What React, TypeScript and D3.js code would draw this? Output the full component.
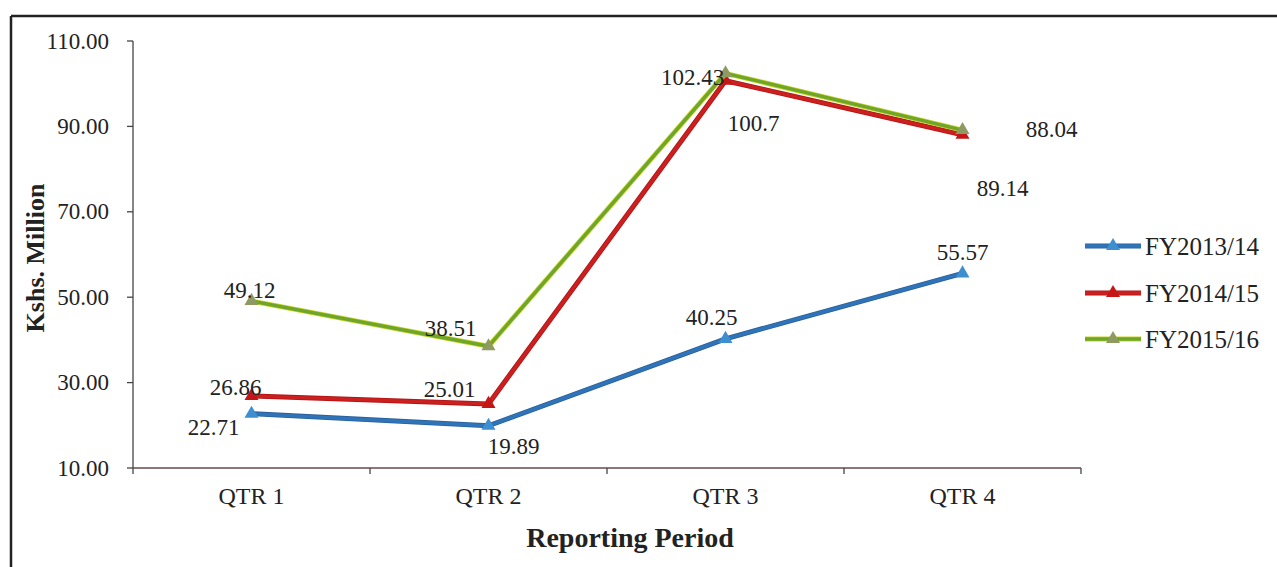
import React from "react";
import * as d3 from "d3";

const categories = ["QTR 1", "QTR 2", "QTR 3", "QTR 4"];
const seriesNames = ["FY2013/14", "FY2014/15", "FY2015/16"];
const fy1314 = [22.71, 19.89, 40.25, 55.57];
const fy1415 = [26.86, 25.01, 100.7, 88.04];
const fy1516 = [49.12, 38.51, 102.43, 89.14];
const labels1314 = ["22.71", "19.89", "40.25", "55.57"];
const labels1415 = ["26.86", "25.01", "100.7", "88.04"];
const labels1516 = ["49.12", "38.51", "102.43", "89.14"];
const yTicks = [10, 30, 50, 70, 90, 110];

const W = 1277;
const H = 567;
const FONT = "'Liberation Serif', 'Times New Roman', serif";

const styles = [
  { color: "#2f74b8", edge: "#2a5f9a", marker: "#3d8fd0" },
  { color: "#cc1f1f", edge: "#b01515", marker: "#c41616" },
  { color: "#6fa62a", edge: "#c9d62a", marker: "#8e9a62" },
];

// label offsets relative to the data point (layout only)
const labelOffsets = [
  [[-38, 14], [25, 21], [-14, -21], [0, -21]],
  [[-16, -9], [-39, -14], [28, 43], [89, -5]],
  [[-2, -10], [-38, -18], [-33, 4], [40, 58]],
];

export default function App() {
  const left = 133, right = 1081, top = 41, bottom = 468;
  const x = d3.scaleBand().domain(categories).range([left, right]).padding(0);
  const y = d3.scaleLinear().domain([10, 110]).range([bottom, top]);
  const cx = (c: string) => (x(c) as number) + x.bandwidth() / 2;

  const data = [fy1314, fy1415, fy1516];
  const labs = [labels1314, labels1415, labels1516];

  const line = d3
    .line<number>()
    .x((_, i) => cx(categories[i]))
    .y((d) => y(d));

  const tri = d3.symbol().type(d3.symbolTriangle).size(85);

  const boundaries = [left, ...categories.map((c) => (x(c) as number) + x.bandwidth())];

  const legendY = [246, 293, 339];

  return (
    <svg
      width={W}
      height={H}
      style={{ position: "absolute", left: 0, top: 0, background: "#fff" }}
      fontFamily={FONT}
    >
      <rect x={0} y={0} width={W} height={H} fill="#fff" />
      {/* frame */}
      <line x1={11} y1={16} x2={W} y2={16} stroke="#222" strokeWidth={2.5} />
      <line x1={11} y1={16} x2={11} y2={H} stroke="#222" strokeWidth={2.5} />

      {/* y axis */}
      <line x1={left} y1={top} x2={left} y2={bottom} stroke="#444" strokeWidth={1.3} />
      {yTicks.map((t) => (
        <g key={t}>
          <line x1={left - 6} x2={left} y1={y(t)} y2={y(t)} stroke="#444" strokeWidth={1.3} />
          <text
            x={left - 24}
            y={y(t)}
            textAnchor="end"
            dominantBaseline="central"
            fontSize={23}
            fill="#222"
          >
            {t.toFixed(2)}
          </text>
        </g>
      ))}
      {/* x axis */}
      <line x1={left} y1={bottom} x2={right} y2={bottom} stroke="#6a4a4a" strokeWidth={1.3} />
      {boundaries.map((b, i) => (
        <line key={i} x1={b} x2={b} y1={bottom} y2={bottom + 6} stroke="#444" strokeWidth={1.3} />
      ))}
      {categories.map((c) => (
        <text
          key={c}
          x={cx(c)}
          y={bottom + 28}
          textAnchor="middle"
          dominantBaseline="central"
          fontSize={24}
          fill="#222"
        >
          {c}
        </text>
      ))}
      <text
        x={630}
        y={537}
        textAnchor="middle"
        dominantBaseline="central"
        fontSize={28}
        fontWeight="bold"
        fill="#222"
      >
        Reporting Period
      </text>
      <text
        transform={`translate(35,258) rotate(-90)`}
        textAnchor="middle"
        dominantBaseline="central"
        fontSize={26}
        fontWeight="bold"
        fill="#222"
      >
        Kshs. Million
      </text>

      {/* series */}
      {data.map((vals, si) => (
        <g key={si}>
          <path d={line(vals) || ""} fill="none" stroke={styles[si].edge} strokeWidth={5} strokeLinejoin="round" />
          <path d={line(vals) || ""} fill="none" stroke={styles[si].color} strokeWidth={3.4} strokeLinejoin="round" />
          {vals.map((v, i) => (
            <path
              key={i}
              d={tri() || ""}
              transform={`translate(${cx(categories[i])},${y(v)})`}
              fill={styles[si].marker}
            />
          ))}
        </g>
      ))}
      {/* data labels */}
      {data.map((vals, si) =>
        vals.map((v, i) => (
          <text
            key={`${si}-${i}`}
            x={cx(categories[i]) + labelOffsets[si][i][0]}
            y={y(v) + labelOffsets[si][i][1]}
            textAnchor="middle"
            dominantBaseline="central"
            fontSize={23}
            fill="#222"
          >
            {labs[si][i]}
          </text>
        ))
      )}

      {/* legend */}
      {seriesNames.map((n, si) => (
        <g key={n}>
          <line x1={1085} x2={1141} y1={legendY[si]} y2={legendY[si]} stroke={styles[si].edge} strokeWidth={5} />
          <line x1={1085} x2={1141} y1={legendY[si]} y2={legendY[si]} stroke={styles[si].color} strokeWidth={3.4} />
          <path d={tri() || ""} transform={`translate(1113,${legendY[si]})`} fill={styles[si].marker} />
          <text
            x={1145}
            y={legendY[si]}
            dominantBaseline="central"
            fontSize={25}
            fill="#222"
          >
            {n}
          </text>
        </g>
      ))}
    </svg>
  );
}
